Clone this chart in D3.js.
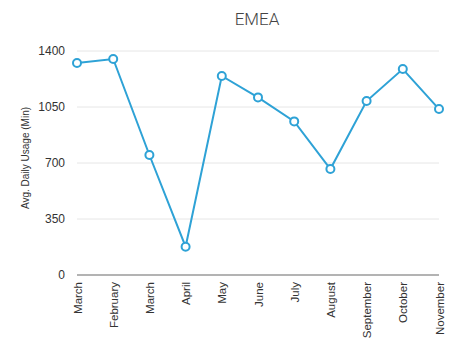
<!DOCTYPE html>
<html><head><meta charset="utf-8">
<script src="https://cdn.jsdelivr.net/npm/d3@7"></script>
<style>
body{margin:0;background:#fff;}
svg{display:block;font-family:"Liberation Sans",Arial,sans-serif;}
</style></head>
<body><svg id="c" width="453" height="342"></svg>
<script>
const categories = ["March","February","March","April","May","June","July","August","September","October","November"];
const values = [1325,1350,750,177,1244,1110,960,662,1087,1287,1037];
const yTicks = [0,350,700,1050,1400];
const title = "EMEA";
const yLabel = "Avg. Daily Usage (Min)";

const svg = d3.select("#c");
const mLeft = 77, mRight = 439, mTop = 51, mBottom = 275;
const x = d3.scalePoint().domain(d3.range(categories.length)).range([mLeft, mRight]);
const y = d3.scaleLinear().domain([0,1400]).range([mBottom, mTop]);

// gridlines
svg.append("g").selectAll("line").data(yTicks.filter(d=>d>0)).join("line")
  .attr("x1", mLeft).attr("x2", mRight)
  .attr("y1", d=>y(d)).attr("y2", d=>y(d))
  .attr("stroke", "#e6e6e6").attr("stroke-width", 1);

// y axis
const ya = svg.append("g").attr("transform", `translate(${mLeft},0)`)
  .call(d3.axisLeft(y).tickValues(yTicks).tickSize(0).tickPadding(12).tickFormat(d3.format("d")));
ya.select(".domain").remove();
ya.selectAll("text").attr("font-size", 12).attr("fill", "#333");

// baseline
svg.append("line").attr("x1", mLeft).attr("x2", mRight)
  .attr("y1", y(0)).attr("y2", y(0)).attr("stroke", "#9a9a9a").attr("stroke-width", 1.5);

// x axis
const xa = svg.append("g").attr("transform", `translate(0,${mBottom})`)
  .call(d3.axisBottom(x).tickSize(0).tickFormat(i=>categories[i]));
xa.select(".domain").remove();
xa.selectAll("text")
  .attr("font-size", 11.5).attr("fill", "#333")
  .attr("transform", "rotate(-90)")
  .attr("text-anchor", "end")
  .attr("x", -7).attr("y", 0).attr("dy", "0.35em");

// line
svg.append("path").datum(values)
  .attr("fill", "none").attr("stroke", "#2ea2d6").attr("stroke-width", 2)
  .attr("d", d3.line().x((d,i)=>x(i)).y(d=>y(d)));

svg.append("g").selectAll("circle").data(values).join("circle")
  .attr("cx", (d,i)=>x(i)).attr("cy", d=>y(d)).attr("r", 4)
  .attr("fill", "#fff").attr("stroke", "#2ea2d6").attr("stroke-width", 2);

// title
svg.append("text").attr("x", 257).attr("y", 25).attr("text-anchor", "middle")
  .attr("font-size", 17).attr("font-family", "Roboto, sans-serif").attr("font-weight", 300)
  .attr("fill", "#444").text(title);

// y label
svg.append("text").attr("transform", "translate(29,158) rotate(-90)")
  .attr("text-anchor", "middle").attr("font-size", 10).attr("fill", "#333").text(yLabel);
</script></body></html>
